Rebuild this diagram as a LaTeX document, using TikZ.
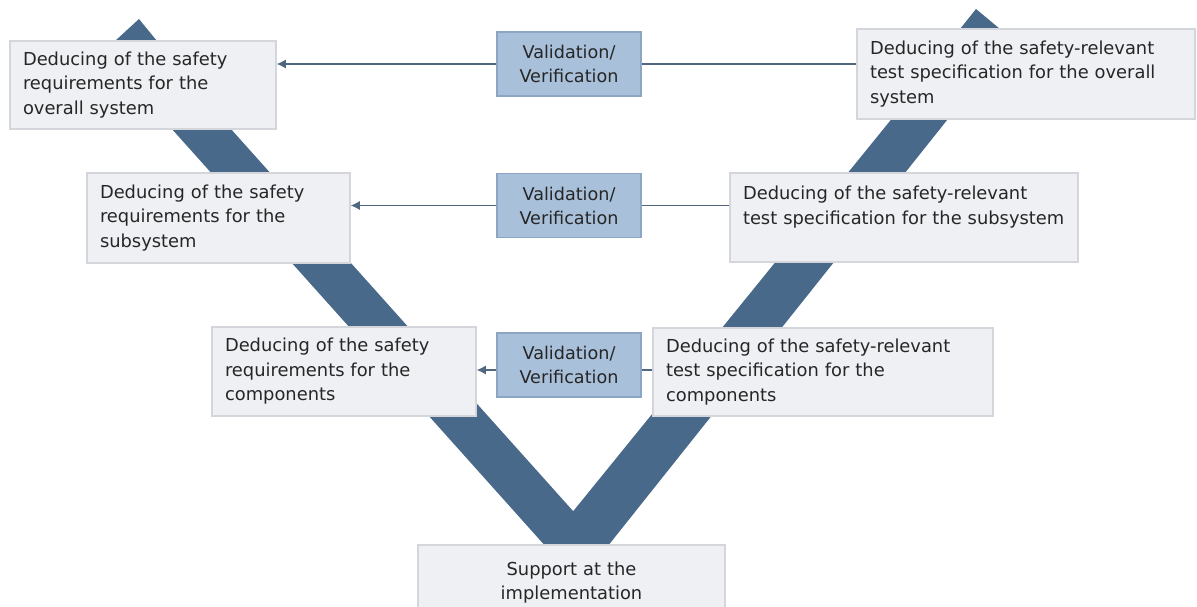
\documentclass[tikz,border=0pt]{standalone}
\usepackage{fontspec}
\setmainfont{DejaVu Sans}
\usetikzlibrary{arrows.meta}

\definecolor{vband}{RGB}{73,105,138}
\definecolor{boxfill}{RGB}{239,240,244}
\definecolor{boxline}{RGB}{212,214,220}
\definecolor{valfill}{RGB}{169,192,218}
\definecolor{valline}{RGB}{140,165,196}
\definecolor{conncol}{RGB}{80,103,130}
\definecolor{txtcol}{RGB}{38,38,38}

\begin{document}
\begin{tikzpicture}[
  x=0.75pt, y=-0.75pt,
  dbox/.style={draw=boxline, fill=boxfill, line width=0.9pt, align=left, text=txtcol,
    inner xsep=9.75pt, inner ysep=0pt, font=\fontsize{13.4}{18.4}\selectfont},
  vbox/.style={draw=valline, fill=valfill, line width=0.9pt, align=center, text=txtcol,
    inner sep=0pt, minimum width=108pt, minimum height=48pt,
    font=\fontsize{13.2}{18}\selectfont},
  conn/.style={draw=conncol, line width=1.2pt}
]

\useasboundingbox (0,0) rectangle (1197,607);
\clip (0,0) rectangle (1197,607);

\fill [vband] (139,19) -- (157,41) -- (153,42) -- (573.2,511.2) -- (963,31) -- (960,29)
  -- (976,9) -- (1000,29) -- (1018,31) -- (578.4,583) -- (94,42) -- (115,41) -- cycle;

\node [dbox, text width=180pt, minimum height=66pt] (l1) at (143,85)
  {Deducing of the safety\\requirements for the\\overall system};
\node [dbox, text width=177.75pt, minimum height=67.5pt] (l2) at (218.5,218)
  {Deducing of the safety\\requirements for the\\subsystem};
\node [dbox, text width=178.5pt, minimum height=66.75pt] (l3) at (344,371.5)
  {Deducing of the safety\\requirements for the\\components};

\node [dbox, text width=234pt, minimum height=67.5pt] (r1) at (1026,74)
  {Deducing of the safety-relevant\\test specification for the overall\\system};
\node [dbox, text width=241.5pt, minimum height=66.75pt, text depth=37pt] (r2) at (904,217.5)
  {Deducing of the safety-relevant\\test specification for the subsystem};
\node [dbox, text width=235.5pt, minimum height=66pt] (r3) at (823,372)
  {Deducing of the safety-relevant\\test specification for the\\components};

\node [dbox, align=center, text width=210.75pt, minimum height=56.25pt] (sup) at (571.5,582.5)
  {Support at the\\implementation};

\node [vbox] (v1) at (569,64) {Validation/\\Verification};
\node [vbox] (v2) at (569,205.5) {Validation/\\Verification};
\node [vbox] (v3) at (569,365) {Validation/\\Verification};

\coordinate (c3) at ([yshift=-3.75pt]v3.west);

\draw [conn] (r1.west |- v1.east) -- (v1.east);
\draw [conn, -{Latex[length=7pt,width=7pt]}] (v1.west) -- (l1.east |- v1.west);
\draw [conn] (r2.west |- v2.east) -- (v2.east);
\draw [conn, -{Latex[length=7pt,width=7pt]}] (v2.west) -- (l2.east |- v2.west);
\draw [conn] (r3.west |- c3) -- (c3 -| v3.east);
\draw [conn, -{Latex[length=7pt,width=7pt]}] (c3) -- (c3 -| l3.east);

\end{tikzpicture}
\end{document}
